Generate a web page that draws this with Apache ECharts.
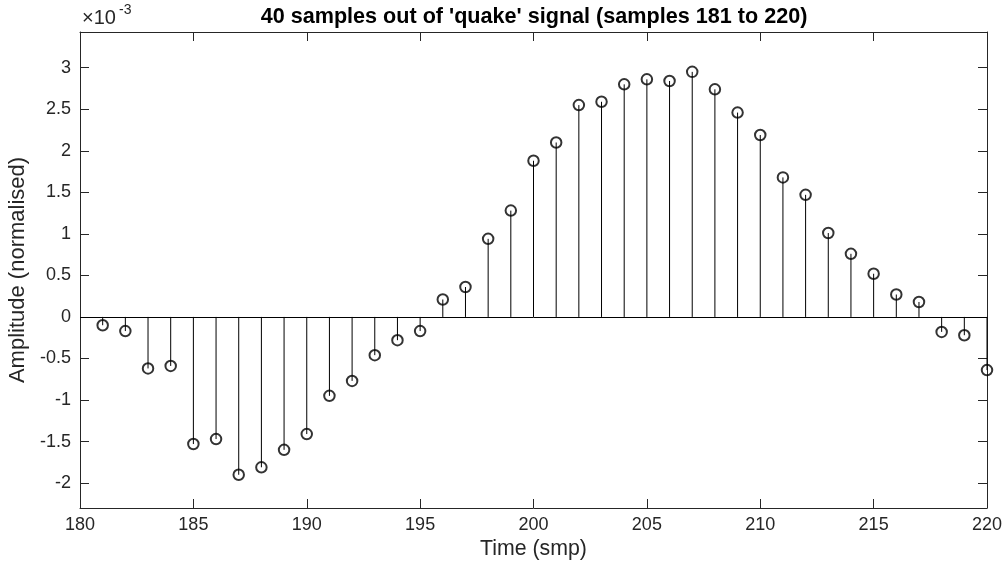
<!DOCTYPE html>
<html>
<head>
<meta charset="utf-8">
<script src="https://cdn.jsdelivr.net/npm/echarts@6/dist/echarts.min.js"></script>
<style>
html,body{margin:0;padding:0;background:#fff;}
#chart{width:1005px;height:562px;}
</style>
</head>
<body>
<div id="chart"></div>
<script>
// Sample indices (Time, smp)
const samples = [181,182,183,184,185,186,187,188,189,190,191,192,193,194,195,196,197,198,199,200,
                 201,202,203,204,205,206,207,208,209,210,211,212,213,214,215,216,217,218,219,220];
// Amplitude (normalised), in units of 1e-3
const amplitude = [-0.10,-0.17,-0.62,-0.59,-1.53,-1.47,-1.90,-1.81,-1.60,-1.41,
                   -0.95,-0.77,-0.46,-0.28,-0.17,0.21,0.36,0.94,1.28,1.88,
                   2.10,2.55,2.59,2.80,2.86,2.84,2.95,2.74,2.46,2.19,
                   1.68,1.47,1.01,0.76,0.52,0.27,0.18,-0.18,-0.22,-0.64];
const xTickValues = [180,185,190,195,200,205,210,215,220];
const yTickValues = [-2,-1.5,-1,-0.5,0,0.5,1,1.5,2,2.5,3];

const titleText = "40 samples out of 'quake' signal (samples 181 to 220)";
const xName = 'Time (smp)';
const yName = 'Amplitude (normalised)';

const points = samples.map((s, i) => [s, amplitude[i]]);
const txt = '#262626';
const font = 'Liberation Sans, Arial, Helvetica, sans-serif';

const chart = echarts.init(document.getElementById('chart'), null, {renderer: 'canvas'});

const yLabelFmt = v => {
  const r = Math.round(v * 100) / 100;
  return yTickValues.some(t => Math.abs(t - r) < 1e-9) ? String(r) : '';
};
const xLabelFmt = v => xTickValues.indexOf(Math.round(v)) >= 0 ? String(Math.round(v)) : '';

chart.setOption({
  animation: false,
  backgroundColor: '#fff',
  title: {
    text: titleText,
    left: 529,
    textAlign: 'center',
    top: 1,
    textStyle: {fontFamily: font, fontSize: 21.6, fontWeight: 'bold', color: '#000'}
  },
  graphic: [
    {type: 'text', left: 82, top: 8, style: {text: '×10', font: '20px ' + font, fill: txt}},
    {type: 'text', left: 119, top: 3, style: {text: '-3', font: '14px ' + font, fill: txt}}
  ],
  grid: {left: 80, right: 18, top: 32, bottom: 54, containLabel: false, outerBoundsMode: 'none'},
  xAxis: [{
    type: 'value', min: 180, max: 220, interval: 5, position: 'bottom',
    name: xName, nameLocation: 'middle', nameGap: 30,
    nameTextStyle: {fontFamily: font, fontSize: 21.3, color: txt},
    axisLine: {show: true, onZero: false, lineStyle: {color: txt, width: 1}},
    axisTick: {show: true, inside: true, length: 9, lineStyle: {color: txt}},
    axisLabel: {fontFamily: font, fontSize: 18, color: txt, margin: 8, formatter: xLabelFmt},
    splitLine: {show: false}
  }, {
    type: 'value', min: 180, max: 220, interval: 5, position: 'top',
    axisLine: {show: true, onZero: false, lineStyle: {color: txt, width: 1}},
    axisTick: {show: true, inside: true, length: 9, lineStyle: {color: txt}},
    axisLabel: {show: false},
    splitLine: {show: false}
  }],
  yAxis: [{
    type: 'value', min: -2.3, max: 3.43, splitNumber: 11, position: 'left',
    name: yName, nameLocation: 'middle', nameGap: 46,
    nameTextStyle: {fontFamily: font, fontSize: 22, color: txt},
    axisLine: {show: true, onZero: false, lineStyle: {color: txt, width: 1}},
    axisTick: {show: true, inside: true, length: 9, lineStyle: {color: txt}},
    axisLabel: {fontFamily: font, fontSize: 18, color: txt, margin: 9, showMinLabel: false, showMaxLabel: false, formatter: yLabelFmt},
    splitLine: {show: false}
  }, {
    type: 'value', min: -2.3, max: 3.43, splitNumber: 11, position: 'right',
    axisLine: {show: true, onZero: false, lineStyle: {color: txt, width: 1}},
    axisTick: {show: true, inside: true, length: 9, lineStyle: {color: txt}},
    axisLabel: {show: false},
    splitLine: {show: false}
  }],
  series: [{
    type: 'custom',
    xAxisIndex: 0, yAxisIndex: 0,
    data: points,
    renderItem: function (params, api) {
      const top = api.coord([api.value(0), api.value(1)]);
      const base = api.coord([api.value(0), 0]);
      return {
        type: 'line',
        shape: {x1: top[0], y1: base[1], x2: top[0], y2: top[1]},
        style: {stroke: '#000', lineWidth: 1}
      };
    },
    markLine: {
      silent: true, symbol: 'none', animation: false,
      label: {show: false},
      lineStyle: {color: '#000', width: 1, type: 'solid'},
      data: [{yAxis: 0}]
    },
    z: 2
  }, {
    type: 'scatter',
    xAxisIndex: 0, yAxisIndex: 0,
    data: points,
    symbol: 'circle',
    symbolSize: 10.5,
    itemStyle: {color: 'rgba(0,0,0,0)', borderColor: '#000', borderWidth: 2},
    z: 3
  }]
});
</script>
</body>
</html>
